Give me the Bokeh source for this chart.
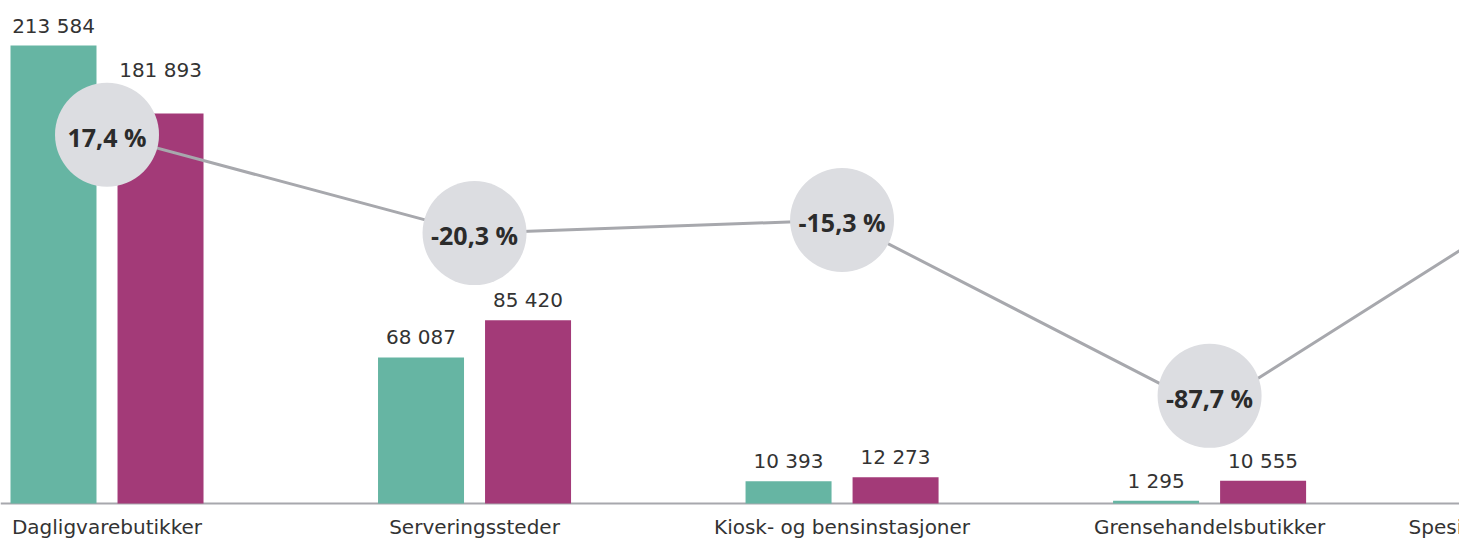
from bokeh.plotting import figure
from bokeh.models import Range1d, ColumnDataSource, Span
from bokeh.core.properties import value
from bokeh.embed import file_html
from bokeh.resources import INLINE

# ---------------- data ----------------
categories = ["Dagligvarebutikker", "Serveringssteder", "Kiosk- og bensinstasjoner",
              "Grensehandelsbutikker", "Spesialforretninger og netthandel"]
series_2020 = [213584, 68087, 10393, 1295]      # teal bars
series_2019 = [181893, 85420, 12273, 10555]     # magenta bars
change_pct = [17.4, -20.3, -15.3, -87.7, 1.5]   # line (percentage change)

# ---------------- style / layout ----------------
TEAL = "#66b5a3"
MAGENTA = "#a33a78"
LINE_COL = "#a7a8ad"
CIRCLE_COL = "#dcdde1"
TEXT_COL = "#333333"
PCT_TEXT_COL = "#2b2b2b"

W, H = 1459, 538
X0, X1 = -0.2898, 3.680
Y0, Y_END = -16322, 234570
P0, P1 = -137.27, 68.79
BAR_W = 0.234
DODGE = 0.1456
R = 52            # circle radius, px
CAP = 15          # cap height of value labels, px
LABEL_GAP = 13    # px between bar top and label baseline
BASE_FIX = -7     # renderer baseline correction, px
CAT_DROP = 31     # px from baseline axis to category label baseline

bar_scale = H / (Y_END - Y0)
pct_scale = H / (P1 - P0)


def py_bar(v):
    return (Y_END - v) * bar_scale


def py_pct(p_):
    return (P1 - p_) * pct_scale


def fmt_int(v):
    return f"{v:,}".replace(",", " ")


def fmt_pct(v):
    return f"{v:.1f}".replace(".", ",") + " %"


# ---- collision handling between circles and value labels ----
n = len(series_2020)
circle_y = list(change_pct[:n])
off_a = [-LABEL_GAP] * n
off_b = [-LABEL_GAP] * n
for i in range(n):
    vy = py_pct(change_pct[i])
    ta = py_bar(series_2020[i]) - LABEL_GAP - CAP
    tb = py_bar(series_2019[i]) - LABEL_GAP - CAP
    top_label = min(ta, tb)
    if vy < top_label < vy + R + 7:
        # labels sit just below the line point: lift the circle above them
        cy = top_label - 5 - R
        circle_y[i] = P1 - cy / pct_scale
    else:
        cy = vy
        # value labels that collide with the circle go above it
        for vals, offs in ((series_2020, off_a), (series_2019, off_b)):
            base = py_bar(vals[i]) - LABEL_GAP
            if base > cy - R and base - CAP < cy + R:
                offs[i] = (cy - R - 6) - py_bar(vals[i])

idx = list(range(n))
src_bars = ColumnDataSource(dict(
    xa=[i - DODGE for i in idx], xb=[i + DODGE for i in idx],
    a=series_2020, b=series_2019,
    la=[fmt_int(v) for v in series_2020], lb=[fmt_int(v) for v in series_2019],
    oa=[o + BASE_FIX for o in off_a], ob=[o + BASE_FIX for o in off_b],
))
src_line = ColumnDataSource(dict(x=list(range(len(change_pct))), y=change_pct))
src_circ = ColumnDataSource(dict(
    x=idx, y=circle_y, t=[fmt_pct(v) for v in change_pct[:n]],
))
src_cat = ColumnDataSource(dict(x=list(range(len(categories))),
                                y=[0] * len(categories), t=categories))

p = figure(width=W, height=H, output_backend="svg", toolbar_location=None,
           x_range=Range1d(X0, X1), y_range=Range1d(Y0, Y_END),
           x_axis_location=None, y_axis_location=None, min_border=0,
           outline_line_color=None, background_fill_color="white",
           border_fill_color="white")
p.extra_y_ranges = {"pct": Range1d(P0, P1)}
p.grid.visible = False

# baseline (category axis line)
p.add_layout(Span(location=0, dimension="width", line_color=LINE_COL,
                  line_width=2, level="underlay"))

p.vbar(x="xa", top="a", bottom=0, width=BAR_W, source=src_bars, color=TEAL, line_color=None)
p.vbar(x="xb", top="b", bottom=0, width=BAR_W, source=src_bars, color=MAGENTA, line_color=None)

p.line(x="x", y="y", source=src_line, y_range_name="pct", line_color=LINE_COL, line_width=3)
p.scatter(x="x", y="y", source=src_circ, y_range_name="pct", size=2 * R,
          fill_color=CIRCLE_COL, line_color=None)
p.text(x="x", y="y", text="t", source=src_circ, y_range_name="pct",
       text_align="center", text_baseline="alphabetic", y_offset=9 + BASE_FIX,
       text_font=value("Open Sans"), text_font_style="bold",
       text_font_size="25px", text_color=PCT_TEXT_COL)

p.text(x="xa", y="a", text="la", source=src_bars, y_offset="oa",
       text_align="center", text_baseline="alphabetic",
       text_font=value("DejaVu Sans"), text_font_size="20px", text_color=TEXT_COL)
p.text(x="xb", y="b", text="lb", source=src_bars, y_offset="ob",
       text_align="center", text_baseline="alphabetic",
       text_font=value("DejaVu Sans"), text_font_size="20px", text_color=TEXT_COL)

# category labels under the baseline
p.text(x="x", y="y", text="t", source=src_cat, y_offset=CAT_DROP + BASE_FIX,
       text_align="center", text_baseline="alphabetic",
       text_font=value("DejaVu Sans"), text_font_size="20px", text_color=TEXT_COL)

open("out.html", "w").write(file_html(p, INLINE))
